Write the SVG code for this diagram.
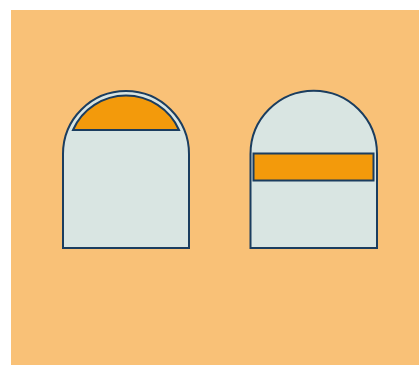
<svg xmlns="http://www.w3.org/2000/svg" width="419" height="365" viewBox="0 0 419 365">
<style>
.body{fill:#D9E5E2;stroke:#1B3D5F;stroke-width:2}
.fill{fill:#F39A0B;stroke:#1B3D5F;stroke-width:2}
</style>
<rect x="11" y="10" width="408" height="355" fill="#F9C177"/>
<g id="arch-left">
<path class="body" d="M63 248 V154 A63 63 0 0 1 189 154 V248 Z"/>
<path class="fill" d="M73 130 A58 58 0 0 1 179 130 Z"/>
</g>
<g id="arch-right">
<path class="body" d="M250.5 248 V154 A63.25 63.25 0 0 1 377 154 V248 Z"/>
<rect class="fill" x="253.5" y="153.5" width="120" height="27"/>
</g>
</svg>
